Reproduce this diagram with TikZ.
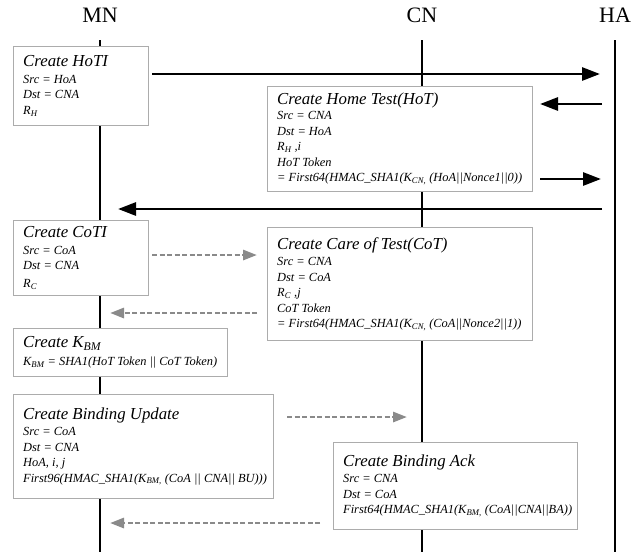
\documentclass[tikz,border=0pt]{standalone}
\usepackage{fontspec}
\setmainfont{Liberation Serif}
\usetikzlibrary{arrows.meta}
\definecolor{boxline}{HTML}{ACACAC}
\definecolor{dashgray}{HTML}{8A8A8A}
\tikzset{
  lifelabel/.style={anchor=base,font=\fontsize{22}{22}\selectfont},
  lifeline/.style={line width=1.8pt},
  msgbox/.style={draw=boxline,fill=white,line width=0.8pt,anchor=north west,inner sep=0pt},
  msgtext/.style={anchor=west,align=left,inner sep=0pt,
    font=\itshape\fontsize{12.4}{15.5}\selectfont},
  solidmsg/.style={line width=2.8pt,-{Triangle[length=18pt,width=13pt]}},
  dashmsg/.style={dashgray,line width=2.8pt,dash pattern=on 5pt off 2.5pt,
    -{Triangle[length=14pt,width=10pt]}}
}
\newcommand{\boxtitle}[1]{{\fontsize{16.8}{17}\selectfont #1}}
\begin{document}
\begin{tikzpicture}[x=1pt,y=-1pt]
  \useasboundingbox (0,0) rectangle (631,552);
  % lifelines
  \foreach \name/\x in {MN/100,CN/422,HA/615}{
    \node [lifelabel] (\name) at (\x,22) {\name};
    \coordinate (\name top) at (\x,40);
    \coordinate (\name bottom) at (\x,552);
    \draw [lifeline] (\name top) -- (\name bottom);
  }
  % boxes
  \node [msgbox,minimum width=135pt,minimum height=79pt] (hoti) at (13,46) {};
  \node [msgtext] (hoti text) at ([xshift=10pt]hoti.west)
    {\boxtitle{Create HoTI}\\[1pt]
     Src = HoA\\Dst = CNA\\R\textsubscript{H}};
  \node [msgbox,minimum width=265pt,minimum height=105pt] (hot) at (267,86) {};
  \node [msgtext] (hot text) at ([xshift=10pt]hot.west)
    {\boxtitle{Create Home Test(HoT)}\\
     Src = CNA\\Dst = HoA\\R\textsubscript{H} ,i\\HoT Token\\
     = First64(HMAC\_SHA1(K\textsubscript{CN,} (HoA||Nonce1||0))};
  \node [msgbox,minimum width=135pt,minimum height=75pt] (coti) at (13,220) {};
  \node [msgtext] (coti text) at ([xshift=10pt]coti.west)
    {\boxtitle{Create CoTI}\\[1pt]
     Src = CoA\\Dst = CNA\\[2pt]R\textsubscript{C}};
  \node [msgbox,minimum width=265pt,minimum height=113pt] (cot) at (267,227) {};
  \node [msgtext] (cot text) at ([xshift=10pt]cot.west)
    {\boxtitle{Create Care of Test(CoT)}\\[1pt]
     Src = CNA\\Dst = CoA\\R\textsubscript{C} ,j\\CoT Token\\
     = First64(HMAC\_SHA1(K\textsubscript{CN,} (CoA||Nonce2||1))};
  \node [msgbox,minimum width=214pt,minimum height=48pt] (kbm) at (13,328) {};
  \node [msgtext] (kbm text) at ([xshift=10pt]kbm.west)
    {\boxtitle{Create K\textsubscript{BM}}\\[2pt]
     K\textsubscript{BM} = SHA1(HoT Token || CoT Token)};
  \node [msgbox,minimum width=260pt,minimum height=104pt] (bu) at (13,394) {};
  \node [msgtext] (bu text) at ([xshift=10pt]bu.west)
    {\boxtitle{Create Binding Update}\\[1pt]
     Src = CoA\\Dst = CNA\\HoA, i, j\\
     First96(HMAC\_SHA1(K\textsubscript{BM,} (CoA || CNA|| BU)))};
  \node [msgbox,minimum width=244pt,minimum height=87pt] (ba) at (333,442) {};
  \node [msgtext] (ba text) at ([xshift=10pt]ba.west)
    {\boxtitle{Create Binding Ack}\\[1pt]
     Src = CNA\\Dst = CoA\\
     First64(HMAC\_SHA1(K\textsubscript{BM,} (CoA||CNA||BA))};
  % message ends
  \foreach \id/\from/\to/\y in {hoti/152/600/74, hot in/602/540/104,
      hot out/540/601/179, hot back/602/118/209, coti/152/257/255,
      cot back/257/110/313, bu/287/407/417, ba back/320/110/523}{
    \coordinate (\id\space a) at (\from,\y);
    \coordinate (\id\space b) at (\to,\y);
  }
  \draw [solidmsg] (hoti a) -- (hoti b);
  \draw [solidmsg] (hot in a) -- (hot in b);
  \draw [solidmsg] (hot out a) -- (hot out b);
  \draw [solidmsg] (hot back a) -- (hot back b);
  \draw [dashmsg] (coti a) -- (coti b);
  \draw [dashmsg] (cot back a) -- (cot back b);
  \draw [dashmsg] (bu a) -- (bu b);
  \draw [dashmsg] (ba back a) -- (ba back b);
\end{tikzpicture}
\end{document}
